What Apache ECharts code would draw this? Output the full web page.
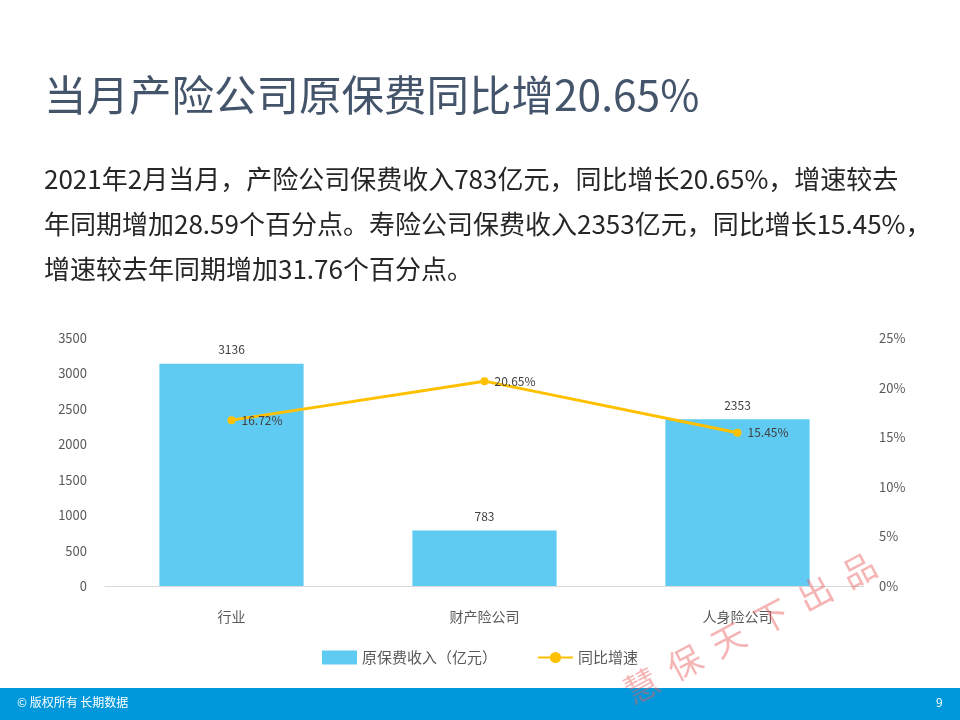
<!DOCTYPE html>
<html><head><meta charset="utf-8">
<script src="https://cdn.jsdelivr.net/npm/echarts@6/dist/echarts.min.js"></script>
<style>html,body{margin:0;padding:0;background:#fff}#c{width:960px;height:720px}</style>
</head><body><div id="c"></div>
<script>
const categories = ['行业', '财产险公司', '人身险公司'];
const premium = [3136, 783, 2353];
const growth = [16.72, 20.65, 15.45];
const leftTicks = [0, 500, 1000, 1500, 2000, 2500, 3000, 3500];
const rightTicks = [0, 5, 10, 15, 20, 25];
const titleText = '当月产险公司原保费同比增20.65%';
const paraLines = [
  '2021年2月当月，产险公司保费收入783亿元，同比增长20.65%，增速较去',
  '年同期增加28.59个百分点。寿险公司保费收入2353亿元，同比增长15.45%，',
  '增速较去年同期增加31.76个百分点。'
];
const FONT = '"Noto Sans CJK SC", "Noto Sans", sans-serif';
const chart = echarts.init(document.getElementById('c'));
chart.setOption({
  backgroundColor: '#fff',
  textStyle: {fontFamily: FONT},
  graphic: [
    {type: 'text', left: 44, top: 74, style: {text: titleText, font: '42.5px ' + FONT, fill: '#44546A'}},
    ...paraLines.map((t, i) => ({type: 'text', left: 44, top: 166 + i * 45, style: {text: t, font: '26px ' + FONT, fill: '#262626'}})),
    {type: 'rect', left: 0, top: 688, shape: {width: 960, height: 32}, style: {fill: '#0098DA'}},
    {type: 'text', left: 17, top: 696, style: {text: '© 版权所有 长期数据', font: '12px ' + FONT, fill: '#fff'}},
    {type: 'text', left: 936, top: 696, style: {text: '9', font: '12px ' + FONT, fill: '#fff'}},
    {type: 'text', x: 750, y: 628, rotation: 28 * Math.PI / 180, z: 100,
      style: {text: '慧  保  天  下  出  品', font: '34px ' + FONT, fill: 'rgba(235,90,90,0.45)', align: 'center', verticalAlign: 'middle'}}
  ],
  legend: {
    bottom: 50, left: 'center', itemGap: 40, itemWidth: 35, itemHeight: 14,
    textStyle: {color: '#595959', fontSize: 15},
    data: [{name: '原保费收入（亿元）', icon: 'rect'}, {name: '同比增速'}]
  },
  grid: {left: 105, right: 96, top: 338, bottom: 134},
  xAxis: {
    type: 'category', data: categories,
    axisLine: {lineStyle: {color: '#D9D9D9'}}, axisTick: {show: false},
    axisLabel: {color: '#595959', fontSize: 14, margin: 24}
  },
  yAxis: [
    {type: 'value', min: 0, max: 3500, interval: 500, splitLine: {show: false},
      axisLabel: {color: '#595959', fontSize: 13, margin: 18, formatter: v => String(v)}},
    {type: 'value', min: 0, max: 25, interval: 5, splitLine: {show: false},
      axisLabel: {color: '#595959', fontSize: 13, margin: 15, formatter: '{value}%'}}
  ],
  series: [
    {name: '原保费收入（亿元）', type: 'bar', data: premium, barWidth: '57%',
      itemStyle: {color: '#5FCBF3'},
      label: {show: true, position: 'top', color: '#404040', fontSize: 12, distance: 8}},
    {name: '同比增速', type: 'line', yAxisIndex: 1, data: growth,
      symbol: 'circle', symbolSize: 8,
      lineStyle: {color: '#FFC000', width: 3}, itemStyle: {color: '#FFC000'},
      label: {show: true, position: 'right', color: '#404040', fontSize: 12, distance: 6, formatter: p => p.value.toFixed(2) + '%'}}
  ]
});
</script></body></html>
